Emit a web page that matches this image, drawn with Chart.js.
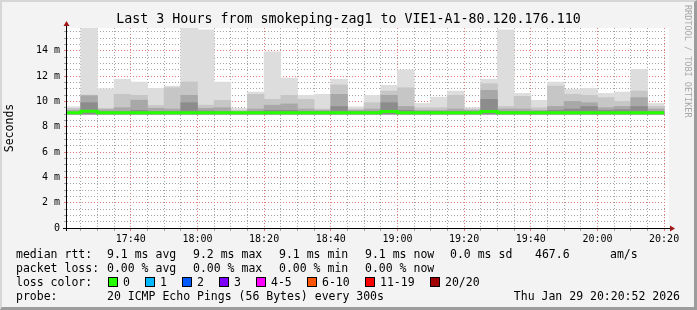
<!DOCTYPE html>
<html>
<head>
<meta charset="utf-8">
<script src="https://cdn.jsdelivr.net/npm/chart.js@4/dist/chart.umd.min.js"></script>
<style>
  html, body { margin: 0; padding: 0; }
  body { width: 697px; height: 310px; background: #f3f3f3; position: relative; overflow: hidden; font-family: "DejaVu Sans Mono", monospace; }
  canvas { position: absolute; left: 0; top: 0; }
  #frame { position: absolute; left: 0; top: 0; width: 697px; height: 310px; box-sizing: border-box;
    border-top: 2px solid #d6d6d6; border-left: 2px solid #d6d6d6; border-right: 3px solid #9c9c9c; border-bottom: 3px solid #9c9c9c; pointer-events: none; }
  #title { position: absolute; left: 0; width: 697px; top: 10px; text-align: center; font-size: 13.3px; line-height: 17px; color: #000; white-space: pre; }
  .lg { position: absolute; font-size: 11.5px; line-height: 14px; color: #000; white-space: pre; }
  .sw { position: absolute; width: 8px; height: 8px; border: 1px solid #000; }
  #rrd { position: absolute; left: 683px; top: 5px; writing-mode: vertical-rl; font-size: 8.5px; color: #a8a8a8; white-space: pre; }
</style>
</head>
<body>
<canvas id="chart" width="697" height="310"></canvas>
<div id="title">Last 3 Hours from smokeping-zag1 to VIE1-A1-80.120.176.110</div>
<div id="legend"></div>
<div id="rrd">RRDTOOL / TOBI OETIKER</div>
<div id="frame"></div>
<script>
// 5 minute slots, start time of each
const slotStart = [
  "17:20", "17:25", "17:30", "17:35", "17:40", "17:45", "17:50", "17:55", "18:00", "18:05", "18:10", "18:15",
  "18:20", "18:25", "18:30", "18:35", "18:40", "18:45", "18:50", "18:55", "19:00", "19:05", "19:10", "19:15",
  "19:20", "19:25", "19:30", "19:35", "19:40", "19:45", "19:50", "19:55", "20:00", "20:05", "20:10", "20:15"
];
const windowStart = "17:20:52";
const windowEnd = "20:20:52";
const timeTicks = ["17:40", "18:00", "18:20", "18:40", "19:00", "19:20", "19:40", "20:00", "20:20"];
const yTicks = [0, 2, 4, 6, 8, 10, 12, 14];

// rtt in milliseconds (axis shows "m" = milli-seconds)
const smokeBase = 9.0;
const pingMax = [9.58, 16.2, 11.0, 11.75, 11.53, 11.03, 11.21, 16.2, 15.65, 11.53, 9.45, 10.74,
  13.92, 11.85, 10.48, 10.56, 11.75, 9.58, 10.48, 11.27, 12.49, 9.84, 10.34, 10.82,
  9.5, 11.75, 15.65, 10.63, 10.08, 11.53, 10.95, 11.03, 10.63, 10.74, 12.54, 9.84];
const smokeHigh = [9.45, 10.5, 9.45, 10.56, 10.48, 9.68, 11.08, 11.53, 9.7, 10.08, 9.3, 10.56,
  10.16, 10.48, 10.16, 9.4, 11.3, 9.4, 9.9, 10.82, 11.08, 9.5, 9.5, 10.48,
  9.4, 11.4, 9.6, 10.4, 9.5, 11.21, 10.56, 10.48, 10.3, 10.0, 10.82, 9.6];
const smokeMid = [9.3, 10.45, 9.35, 9.5, 10.1, 9.45, 9.4, 10.48, 9.45, 9.5, 9.2, 9.4,
  9.7, 9.8, 9.4, 9.3, 10.56, 9.3, 9.4, 10.48, 9.6, 9.3, 9.3, 9.4,
  9.3, 10.88, 9.4, 9.4, 9.3, 9.6, 10.0, 9.9, 9.5, 9.6, 10.3, 9.4];
const smokeLow = [9.15, 9.9, 9.2, 9.2, 9.3, 9.2, 9.2, 9.9, 9.25, 9.2, 9.15, 9.2,
  9.3, 9.3, 9.2, 9.2, 9.6, 9.2, 9.2, 9.9, 9.3, 9.2, 9.2, 9.2,
  9.2, 10.16, 9.2, 9.2, 9.2, 9.3, 9.4, 9.6, 9.3, 9.35, 9.6, 9.2];
const medianRtt = [9.1, 9.22, 9.1, 9.1, 9.1, 9.1, 9.1, 9.1, 9.1, 9.1, 9.1, 9.1,
  9.1, 9.1, 9.1, 9.1, 9.1, 9.1, 9.1, 9.2, 9.1, 9.1, 9.1, 9.1,
  9.1, 9.2, 9.1, 9.1, 9.1, 9.1, 9.1, 9.1, 9.1, 9.1, 9.1, 9.1];

const rttStats = ["9.1 ms avg", "9.2 ms max", "9.1 ms min", "9.1 ms now", "0.0 ms sd", "467.6", "am/s"];
const lossStats = ["0.00 % avg", "0.00 % max", "0.00 % min", "0.00 % now"];
const lossLabels = ["0", "1", "2", "3", "4-5", "6-10", "11-19", "20/20"];
const lossColors = ["#26ff00", "#00b8ff", "#0059ff", "#7e00ff", "#ff00ff", "#ff5500", "#ff0000", "#a10000"];
const probeText = "20 ICMP Echo Pings (56 Bytes) every 300s";
const stamp = "Thu Jan 29 20:20:52 2026";

function toMin(t) {
  const p = t.split(":").map(Number);
  return p[0] * 60 + p[1] + (p[2] || 0) / 60;
}
function fmt(v) {
  const h = Math.floor(v / 60), m = Math.round(v % 60);
  return String(h).padStart(2, "0") + ":" + String(m).padStart(2, "0");
}

const xMin = toMin(windowStart);
const xMax = toMin(windowEnd);
const starts = slotStart.map(toMin);
const step = starts[1] - starts[0];

function layer(top) {
  return starts.map((s, i) => ({ x: s + step / 2, y: [smokeBase, top[i]] }));
}
const medianPts = starts.map((s, i) => ({ x: s, y: medianRtt[i] }));
medianPts.push({ x: starts[starts.length - 1] + step, y: medianRtt[medianRtt.length - 1] });

const gridGray = "#a4a4a4";
const gridRed = "#e27a7a";

const axes = {
  id: "axes",
  beforeDraw(chart) {
    const { ctx, chartArea: a } = chart;
    ctx.save();
    ctx.fillStyle = "#fff";
    ctx.fillRect(a.left, a.top, a.right - a.left + 2, a.bottom - a.top);
    ctx.restore();
  },
  afterDraw(chart) {
    const { ctx, chartArea: a } = chart;
    const x0 = a.left - 0.5, y0 = a.bottom + 0.5;
    ctx.save();
    ctx.strokeStyle = "#000";
    ctx.lineWidth = 1;
    ctx.beginPath();
    ctx.moveTo(a.left - 4, y0); ctx.lineTo(a.right + 4, y0);
    ctx.moveTo(x0, a.bottom + 3); ctx.lineTo(x0, a.top - 3);
    ctx.stroke();
    ctx.fillStyle = "#a01818";
    ctx.beginPath();
    ctx.moveTo(x0, a.top - 7); ctx.lineTo(x0 - 3, a.top - 2); ctx.lineTo(x0 + 3, a.top - 2);
    ctx.fill();
    ctx.beginPath();
    ctx.moveTo(a.right + 8, y0); ctx.lineTo(a.right + 3, y0 - 3); ctx.lineTo(a.right + 3, y0 + 3);
    ctx.fill();
    ctx.restore();
  }
};

Chart.defaults.font.family = "'DejaVu Sans Mono', monospace";
Chart.defaults.color = "#000";

const barOpts = { type: "bar", grouped: false, barPercentage: 1, categoryPercentage: 1, borderWidth: 0, clip: 0 };

new Chart(document.getElementById("chart"), {
  type: "bar",
  data: {
    datasets: [
      { type: "line", data: medianPts, borderColor: "#26ff00", borderWidth: 3, stepped: true, pointRadius: 0, clip: 0 },
      Object.assign({ data: layer(smokeLow), backgroundColor: "#8c8c8c" }, barOpts),
      Object.assign({ data: layer(smokeMid), backgroundColor: "#a8a8a8" }, barOpts),
      Object.assign({ data: layer(smokeHigh), backgroundColor: "#c6c6c6" }, barOpts),
      Object.assign({ data: layer(pingMax), backgroundColor: "#dddddd" }, barOpts)
    ]
  },
  options: {
    responsive: false,
    animation: false,
    layout: { padding: { left: 0, right: 30, top: 28, bottom: 0 } },
    plugins: { legend: { display: false }, tooltip: { enabled: false } },
    scales: {
      x: {
        type: "linear",
        min: xMin,
        max: xMax,
        offset: false,
        afterFit: (s) => { s.height = 82; },
        afterBuildTicks: (s) => {
          const t = starts.concat([starts[starts.length - 1] + step]).filter(v => v > xMin && v <= xMax);
          s.ticks = t.map(v => ({ value: v }));
        },
        grid: {
          offset: false,
          lineWidth: 1,
          color: (c) => timeTicks.includes(fmt(c.tick.value)) ? gridRed : gridGray,
          tickColor: (c) => timeTicks.includes(fmt(c.tick.value)) ? gridRed : gridGray,
          tickLength: 3
        },
        border: { display: false, dash: [1, 2] },
        ticks: {
          autoSkip: false,
          maxRotation: 0,
          padding: 2,
          font: { size: 10 },
          callback: (v) => timeTicks.includes(fmt(v)) ? fmt(v) : ""
        }
      },
      y: {
        min: 0,
        max: 15.8,
        afterFit: (s) => { s.width = 67; },
        afterBuildTicks: (s) => {
          const t = [];
          for (let v = 0; v < s.max; v += 0.5) t.push({ value: v });
          s.ticks = t;
        },
        grid: {
          lineWidth: 1,
          color: (c) => yTicks.includes(c.tick.value) ? gridRed : gridGray,
          tickColor: (c) => yTicks.includes(c.tick.value) ? gridRed : gridGray,
          tickLength: 3
        },
        border: { display: false, dash: [1, 2] },
        ticks: {
          autoSkip: false,
          padding: 4,
          font: { size: 10 },
          callback: (v) => yTicks.includes(v) ? (v === 0 ? "0" : v + " m") : ""
        },
        title: { display: true, text: "Seconds", font: { size: 11.5 }, padding: { top: 3, bottom: 0 } }
      }
    }
  },
  plugins: [axes]
});

// legend rows under the graph
const legend = document.getElementById("legend");
function text(str, x, y, right) {
  const d = document.createElement("div");
  d.className = "lg";
  d.textContent = str;
  d.style.top = (y - 7) + "px";
  if (right) d.style.right = (697 - x) + "px"; else d.style.left = x + "px";
  legend.appendChild(d);
}
const rowY = [254, 268, 282, 296];
const colX = [107, 193, 279, 365, 450, 535, 610];
text("median rtt:", 16, rowY[0]);
rttStats.forEach((s, i) => text(s, colX[i], rowY[0]));
text("packet loss:", 16, rowY[1]);
lossStats.forEach((s, i) => text(s, colX[i], rowY[1]));
text("loss color:", 16, rowY[2]);
const swX = [108, 145, 182, 219, 256, 307, 365, 430];
lossLabels.forEach((s, i) => {
  const b = document.createElement("div");
  b.className = "sw";
  b.style.left = swX[i] + "px";
  b.style.top = (rowY[2] - 5) + "px";
  b.style.background = lossColors[i];
  legend.appendChild(b);
  text(s, swX[i] + 15, rowY[2]);
});
text("probe:", 16, rowY[3]);
text(probeText, 107, rowY[3]);
text(stamp, 680, rowY[3], true);
</script>
</body>
</html>
